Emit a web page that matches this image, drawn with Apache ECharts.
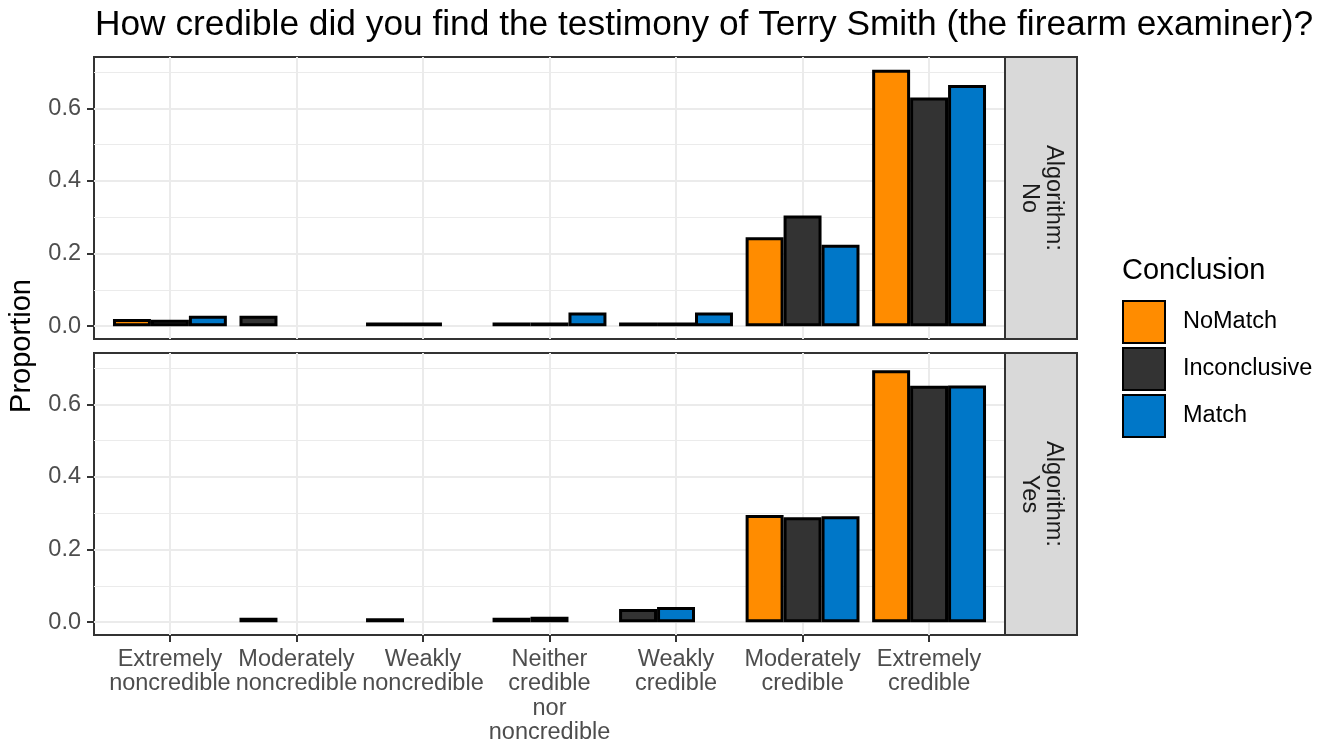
<!DOCTYPE html>
<html><head><meta charset="utf-8">
<script src="https://cdn.jsdelivr.net/npm/echarts@6/dist/echarts.min.js"></script>
<style>html,body{margin:0;padding:0;background:#fff}#c{width:1331px;height:747px}</style>
</head><body><div id="c"></div>
<script>
// ---- data ----
const titleText = 'How credible did you find the testimony of Terry Smith (the firearm examiner)?';
const categories = ['Extremely\nnoncredible', 'Moderately\nnoncredible', 'Weakly\nnoncredible',
  'Neither\ncredible\nnor\nnoncredible', 'Weakly\ncredible', 'Moderately\ncredible', 'Extremely\ncredible'];
const conclusions = ['NoMatch', 'Inconclusive', 'Match'];
const facetLabels = ['Algorithm:\nNo', 'Algorithm:\nYes'];
// Algorithm: No
const noMatchNo      = [0.020, null,  0.010, 0.010, 0.010, 0.245, 0.706];
const inconclusiveNo = [0.018, 0.029, null,  0.010, 0.010, 0.305, 0.630];
const matchNo        = [0.029, null,  0.010, 0.038, 0.038, 0.224, 0.664];
// Algorithm: Yes
const noMatchYes      = [null, null,  0.011, null,  null,  0.295, 0.694];
const inconclusiveYes = [null, 0.012, null,  0.012, 0.036, 0.289, 0.651];
const matchYes        = [null, null,  null,  0.015, 0.042, 0.292, 0.652];
const yTicks = [0, 0.2, 0.4, 0.6];
const yMinorTicks = [0.1, 0.3, 0.5, 0.7];
const yTitle = 'Proportion';
const legendTitle = 'Conclusion';

// ---- styles ----
const colors = ['#FF8C00', '#333333', '#0077C8'];
const FONT = '"Liberation Sans", Arial, Helvetica, sans-serif';
const panels = [
  { top: 57, height: 282, groups: [noMatchNo, inconclusiveNo, matchNo] },
  { top: 353, height: 282, groups: [noMatchYes, inconclusiveYes, matchYes] }
];
const panelLeft = 94, panelWidth = 911;
const nCat = categories.length;
const unit = panelWidth / (nCat + 0.2);
const catPos = categories.map((_, i) => i + 1);
const dataMax = Math.max(...[].concat(...panels.map(p => [].concat(...p.groups))).filter(v => v != null));
const yMin = -0.05 * dataMax, yMax = dataMax * 1.05;

// dodge with preserved single width: present groups fill slots left to right
function slots(groups) {
  const out = [[], [], []];
  categories.forEach((c, i) => {
    let k = 0;
    groups.forEach((arr, g) => {
      if (arr[i] != null) { out[k].push({ value: arr[i], itemStyle: { color: colors[g] } }); k++; }
    });
    for (; k < 3; k++) out[k].push('-');
  });
  return out;
}

const grid = [], xAxis = [], yAxis = [], series = [], graphic = [];
panels.forEach((p, pi) => {
  const isBottom = pi === panels.length - 1;
  const og = grid.length;
  grid.push({ left: panelLeft, top: p.top, width: panelWidth, height: p.height, show: true,
    borderColor: '#333333', borderWidth: 2, backgroundColor: '#fff', containLabel: false });
  const ig = grid.length;
  grid.push({ left: panelLeft + 0.1 * unit, top: p.top, width: nCat * unit, height: p.height, containLabel: false });
  // outer axes
  const ox = xAxis.length;
  xAxis.push({ gridIndex: og, type: 'value', min: 0.4, max: nCat + 0.6, position: 'bottom',
    axisLine: { show: false, onZero: false },
    axisTick: { show: isBottom, customValues: catPos, length: 7, lineStyle: { color: '#333333', width: 2 } },
    axisLabel: isBottom ? { show: true, customValues: catPos, formatter: v => categories[Math.round(v) - 1],
      fontSize: 23.5, color: '#4D4D4D', lineHeight: 24.5, margin: 12, fontFamily: FONT, align: 'center' } : { show: false },
    splitLine: { show: true, lineStyle: { color: '#EBEBEB', width: 2 } } });
  const oy = yAxis.length;
  yAxis.push({ gridIndex: og, type: 'value', min: yMin, max: yMax,
    axisLine: { show: false, onZero: false },
    axisTick: { show: true, customValues: yTicks, length: 7, lineStyle: { color: '#333333', width: 2 } },
    axisLabel: { customValues: yTicks, formatter: v => v.toFixed(1), fontSize: 23.5, color: '#4D4D4D', margin: 13, fontFamily: FONT },
    splitLine: { show: true, lineStyle: { color: '#EBEBEB', width: 2 } } });
  yAxis.push({ gridIndex: og, type: 'value', min: yMin, max: yMax, position: 'left',
    axisLine: { show: false, onZero: false }, axisTick: { show: false, customValues: yMinorTicks }, axisLabel: { show: false },
    splitLine: { show: true, lineStyle: { color: '#EBEBEB', width: 1 } } });
  // inner axes
  const ix = xAxis.length;
  xAxis.push({ gridIndex: ig, type: 'category', data: categories, show: false });
  const iy = yAxis.length;
  yAxis.push({ gridIndex: ig, type: 'value', min: yMin, max: yMax, show: false });
  slots(p.groups).forEach((d, k) => {
    series.push({ type: 'bar', xAxisIndex: ix, yAxisIndex: iy, data: d, barGap: '0%', barCategoryGap: '10%',
      silent: true, z: 3, itemStyle: { borderColor: '#000', borderWidth: 3 } });
  });
  if (pi === 0) {
    conclusions.forEach((name, g) => {
      series.push({ type: 'bar', name, xAxisIndex: ox, yAxisIndex: oy, data: [],
        itemStyle: { color: colors[g], borderColor: '#000', borderWidth: 2.5 } });
    });
  }
  // strip
  graphic.push({ type: 'rect', shape: { x: panelLeft + panelWidth, y: p.top, width: 72, height: p.height },
    style: { fill: '#D9D9D9', stroke: '#333333', lineWidth: 2 }, z: 10 });
  graphic.push({ type: 'text', x: panelLeft + panelWidth + 36, y: p.top + p.height / 2, rotation: -Math.PI / 2,
    style: { text: facetLabels[pi], fontSize: 23.5, fontFamily: FONT, fill: '#1A1A1A', align: 'center',
      verticalAlign: 'middle', lineHeight: 24 }, z: 11 });
});
graphic.push({ type: 'text', x: 22, y: 346, rotation: Math.PI / 2,
  style: { text: yTitle, fontSize: 29, fontFamily: FONT, fill: '#000', align: 'center', verticalAlign: 'middle' } });

const chart = echarts.init(document.getElementById('c'), null, { renderer: 'canvas' });
chart.setOption({
  animation: false,
  backgroundColor: '#fff',
  title: [
    { text: titleText, left: 95, top: 8, padding: 0, textStyle: { fontSize: 35.3, fontWeight: 'normal', color: '#000', fontFamily: FONT } },
    { text: legendTitle, left: 1122, top: 256, padding: 0, textStyle: { fontSize: 29, fontWeight: 'normal', color: '#000', fontFamily: FONT } }
  ],
  legend: { orient: 'vertical', left: 1122, top: 300, padding: 0, itemWidth: 42, itemHeight: 42, itemGap: 3,
    selectedMode: false, data: conclusions.map(name => ({ name, icon: 'rect' })),
    textStyle: { fontSize: 23.5, color: '#000', fontFamily: FONT, padding: [0, 0, 0, 13] } },
  grid, xAxis, yAxis, series, graphic
});
</script></body></html>
